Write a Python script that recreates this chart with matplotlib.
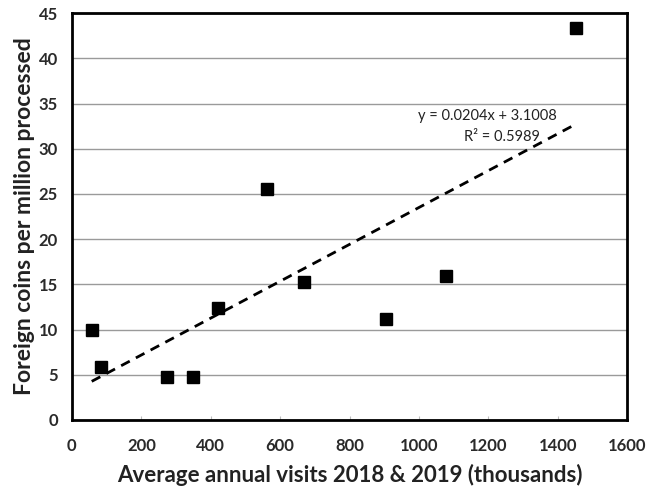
import matplotlib
matplotlib.use("Agg")
import matplotlib.pyplot as plt
import numpy as np

plt.rcParams['font.family'] = ['Lato', 'DejaVu Sans']

visits = [57, 83, 273, 348, 422, 563, 669, 905, 1077, 1453]
coins = [10.0, 5.8, 4.7, 4.8, 12.35, 25.55, 15.3, 11.2, 15.9, 43.3]
slope = 0.0204
intercept = 3.1008
r2 = 0.5989
xticks = [0, 200, 400, 600, 800, 1000, 1200, 1400, 1600]
yticks = [0, 5, 10, 15, 20, 25, 30, 35, 40, 45]

fig = plt.figure(figsize=(6.48, 4.86), dpi=100)
ax = fig.add_axes([0.111, 0.136, 0.857, 0.837])

ax.set_xlim(0, 1600)
ax.set_ylim(0, 45)
ax.set_xticks(xticks)
ax.set_yticks(yticks)
ax.yaxis.grid(True, color='#9a9a9a', linewidth=1.0)
ax.set_axisbelow(True)

ax.plot(visits, coins, linestyle='none', marker='s', markersize=8,
        color='black', zorder=3)

xl = np.array([min(visits), max(visits)])
ax.plot(xl, slope * xl + intercept, linestyle=(0, (3.5, 2.5)), color='black',
        linewidth=2, zorder=2)

ax.text(1196, 33.6, f"y = {slope}x + {intercept}", ha='center', va='center',
        fontsize=10.5, color='#222222')
ax.text(1240, 31.3, f"R² = {r2}", ha='center', va='center',
        fontsize=10.5, color='#222222')

for s in ax.spines.values():
    s.set_linewidth(2)
    s.set_color('black')

ax.tick_params(axis='both', length=0, labelsize=12, labelcolor='#2a2a2a', pad=10)
ax.tick_params(axis='x', direction='in', length=3, color='#bbbbbb', pad=13)
for lab in ax.get_xticklabels() + ax.get_yticklabels():
    lab.set_fontweight('bold')

ax.set_xlabel("Average annual visits 2018 & 2019 (thousands)", fontsize=16,
              fontweight='bold', color='#222222', labelpad=7)
ax.set_ylabel("Foreign coins per million processed", fontsize=16.5,
              fontweight='bold', color='#222222', labelpad=3)

fig.savefig("out.png", dpi=100)
